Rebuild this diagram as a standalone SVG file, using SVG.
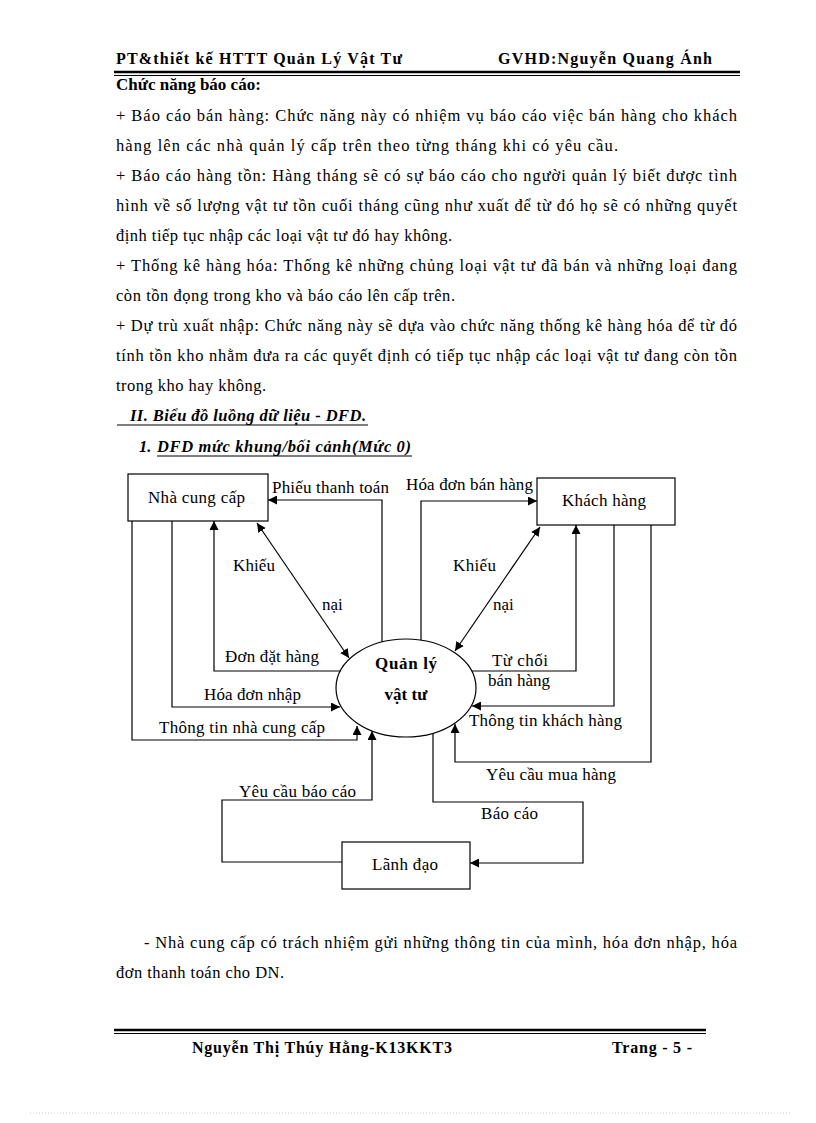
<svg xmlns="http://www.w3.org/2000/svg" width="816" height="1123" viewBox="0 0 816 1123">
<style>
text{font-family:"Liberation Serif","Times New Roman",serif;fill:#000}
.b{font-size:16.5px}
.bd{font-size:17px;font-weight:bold}
.hd{font-size:16px;font-weight:bold}
.ft{font-size:16px;font-weight:bold}
.lb{font-size:17px}
.nd{font-size:17px;font-weight:bold}
.ttl{font-size:16.5px;font-weight:bold;font-style:italic}
.box{fill:#fff;stroke:#000;stroke-width:1.2}
.ln{fill:none;stroke:#000;stroke-width:1.2}
</style>
<defs>
<marker id="ar" viewBox="0 0 10 10" refX="10" refY="5" markerWidth="9" markerHeight="9" markerUnits="userSpaceOnUse" orient="auto-start-reverse">
<path d="M0,0 L10,5 L0,10 z" fill="#000"/>
</marker>
</defs>
<rect width="816" height="1123" fill="#fff"/>

<g id="header">
<text class="hd" x="116" y="64" textLength="286" lengthAdjust="spacing">PT&amp;thiết kế HTTT  Quản Lý Vật Tư</text>
<text class="hd" x="498" y="64" textLength="214" lengthAdjust="spacing">GVHD:Nguyễn Quang Ánh</text>
<line x1="114" y1="72" x2="740" y2="72" stroke="#000" stroke-width="2.5"/>
<line x1="114" y1="75.5" x2="740" y2="75.5" stroke="#000" stroke-width="1"/>
</g>

<g id="body-top">
<text class="bd" x="116" y="90">Chức năng báo cáo:</text>
<text class="b" x="116" y="121" textLength="621" lengthAdjust="spacing">+ Báo cáo bán hàng: Chức năng này có nhiệm vụ báo cáo việc bán hàng cho khách</text>
<text class="b" x="116" y="151" textLength="502" lengthAdjust="spacing">hàng lên các nhà quản lý cấp trên theo từng tháng khi có yêu cầu.</text>
<text class="b" x="116" y="181" textLength="621" lengthAdjust="spacing">+ Báo cáo hàng tồn: Hàng tháng sẽ có sự báo cáo cho người quản lý biết được tình</text>
<text class="b" x="116" y="211" textLength="621" lengthAdjust="spacing">hình về số lượng vật tư tồn cuối tháng cũng như xuất để từ đó họ sẽ có những quyết</text>
<text class="b" x="116" y="241" textLength="336" lengthAdjust="spacing">định tiếp tục nhập các loại vật tư đó hay không.</text>
<text class="b" x="116" y="271" textLength="621" lengthAdjust="spacing">+ Thống kê hàng hóa: Thống kê những chủng loại vật tư đã bán và những loại đang</text>
<text class="b" x="116" y="301" textLength="339" lengthAdjust="spacing">còn tồn đọng trong kho và báo cáo lên cấp trên.</text>
<text class="b" x="116" y="331" textLength="621" lengthAdjust="spacing">+ Dự trù xuất nhập: Chức năng này sẽ dựa vào chức năng thống kê hàng hóa để từ đó</text>
<text class="b" x="116" y="361" textLength="621" lengthAdjust="spacing">tính tồn kho nhằm đưa ra các quyết định có tiếp tục nhập các loại vật tư đang còn tồn</text>
<text class="b" x="116" y="391" textLength="150" lengthAdjust="spacing">trong kho hay không.</text>
<text class="ttl" x="130" y="421" textLength="236" lengthAdjust="spacing">II. Biểu đồ luồng dữ liệu - DFD.</text>
<line x1="117" y1="425" x2="368" y2="425" stroke="#000" stroke-width="1.2"/>
<text class="ttl" x="139" y="452">1. </text>
<text class="ttl" x="157" y="452" textLength="254" lengthAdjust="spacing">DFD mức khung/bối cảnh(Mức 0)</text>
<line x1="157" y1="456" x2="412" y2="456" stroke="#000" stroke-width="1.2"/>
</g>

<g id="connectors">
<polyline class="ln" points="382,643 382,500 268,500" marker-end="url(#ar)"/>
<polyline class="ln" points="421,644 421,501 537,501" marker-end="url(#ar)"/>
<line class="ln" x1="257" y1="523" x2="349" y2="658" marker-start="url(#ar)" marker-end="url(#ar)"/>
<line class="ln" x1="540" y1="527" x2="455" y2="651" marker-start="url(#ar)" marker-end="url(#ar)"/>
<polyline class="ln" points="341,671 214,671 214,521" marker-end="url(#ar)"/>
<polyline class="ln" points="172,521 172,707 340,707" marker-end="url(#ar)"/>
<polyline class="ln" points="132,521 132,740 357,740 357,726" marker-end="url(#ar)"/>
<polyline class="ln" points="342,862 222,862 222,800 372,800 372,731" marker-end="url(#ar)"/>
<polyline class="ln" points="433,734 433,802 583,802 583,863 470,863" marker-end="url(#ar)"/>
<polyline class="ln" points="472,671 576,671 576,525" marker-end="url(#ar)"/>
<polyline class="ln" points="614,525 614,706 472,706" marker-end="url(#ar)"/>
<polyline class="ln" points="651,525 651,762 455,762 455,724" marker-end="url(#ar)"/>
</g>

<g id="labels">
<text class="lb" x="272" y="493" textLength="117" lengthAdjust="spacing">Phiếu thanh toán</text>
<text class="lb" x="406" y="490" textLength="127" lengthAdjust="spacing">Hóa đơn bán hàng</text>
<text class="lb" x="233" y="571" textLength="42" lengthAdjust="spacing">Khiếu</text>
<text class="lb" x="322" y="610">nại</text>
<text class="lb" x="453" y="571" textLength="43" lengthAdjust="spacing">Khiếu</text>
<text class="lb" x="493" y="610">nại</text>
<text class="lb" x="225" y="662" textLength="94" lengthAdjust="spacing">Đơn đặt hàng</text>
<text class="lb" x="204" y="700" textLength="97" lengthAdjust="spacing">Hóa đơn nhập</text>
<text class="lb" x="159" y="733" textLength="166" lengthAdjust="spacing">Thông tin nhà cung cấp</text>
<text class="lb" x="492" y="666" textLength="56" lengthAdjust="spacing">Từ chối</text>
<text class="lb" x="488" y="686" textLength="62" lengthAdjust="spacing">bán hàng</text>
<text class="lb" x="469" y="726" textLength="153" lengthAdjust="spacing">Thông tin khách hàng</text>
<text class="lb" x="486" y="780" textLength="130" lengthAdjust="spacing">Yêu cầu mua hàng</text>
<text class="lb" x="239" y="797" textLength="117" lengthAdjust="spacing">Yêu cầu báo cáo</text>
<text class="lb" x="481" y="819" textLength="57" lengthAdjust="spacing">Báo cáo</text>
</g>

<g id="node-nha-cung-cap">
<rect class="box" x="128" y="474" width="140" height="47"/>
<text class="lb" x="148" y="503" textLength="97" lengthAdjust="spacing">Nhà cung cấp</text>
</g>
<g id="node-khach-hang">
<rect class="box" x="537" y="478" width="138" height="47"/>
<text class="lb" x="562" y="506" textLength="84" lengthAdjust="spacing">Khách hàng</text>
</g>
<g id="node-quan-ly-vat-tu">
<ellipse class="box" cx="406" cy="688" rx="70" ry="49"/>
<text class="nd" x="375" y="669" textLength="62" lengthAdjust="spacing">Quản lý</text>
<text class="nd" x="406" y="700" text-anchor="middle">vật tư</text>
</g>
<g id="node-lanh-dao">
<rect class="box" x="342" y="842" width="128" height="47"/>
<text class="lb" x="372" y="870" textLength="66" lengthAdjust="spacing">Lãnh đạo</text>
</g>

<g id="body-bottom">
<text class="b" x="144" y="948" textLength="593" lengthAdjust="spacing">- Nhà cung cấp có trách nhiệm gửi những thông tin của mình, hóa đơn nhập, hóa</text>
<text class="b" x="116" y="978" textLength="168" lengthAdjust="spacing">đơn thanh toán cho DN.</text>
</g>

<g id="footer">
<line x1="114" y1="1030" x2="706" y2="1030" stroke="#000" stroke-width="2.5"/>
<line x1="114" y1="1033.5" x2="706" y2="1033.5" stroke="#000" stroke-width="1"/>
<text class="ft" x="192" y="1053" textLength="260" lengthAdjust="spacing">Nguyễn Thị Thúy Hằng-K13KKT3</text>
<text class="hd" x="612" y="1053" textLength="80" lengthAdjust="spacing">Trang - 5 -</text>
<line x1="30" y1="1113" x2="790" y2="1113" stroke="#ccc" stroke-width="1" stroke-dasharray="1,2"/>
</g>
</svg>
